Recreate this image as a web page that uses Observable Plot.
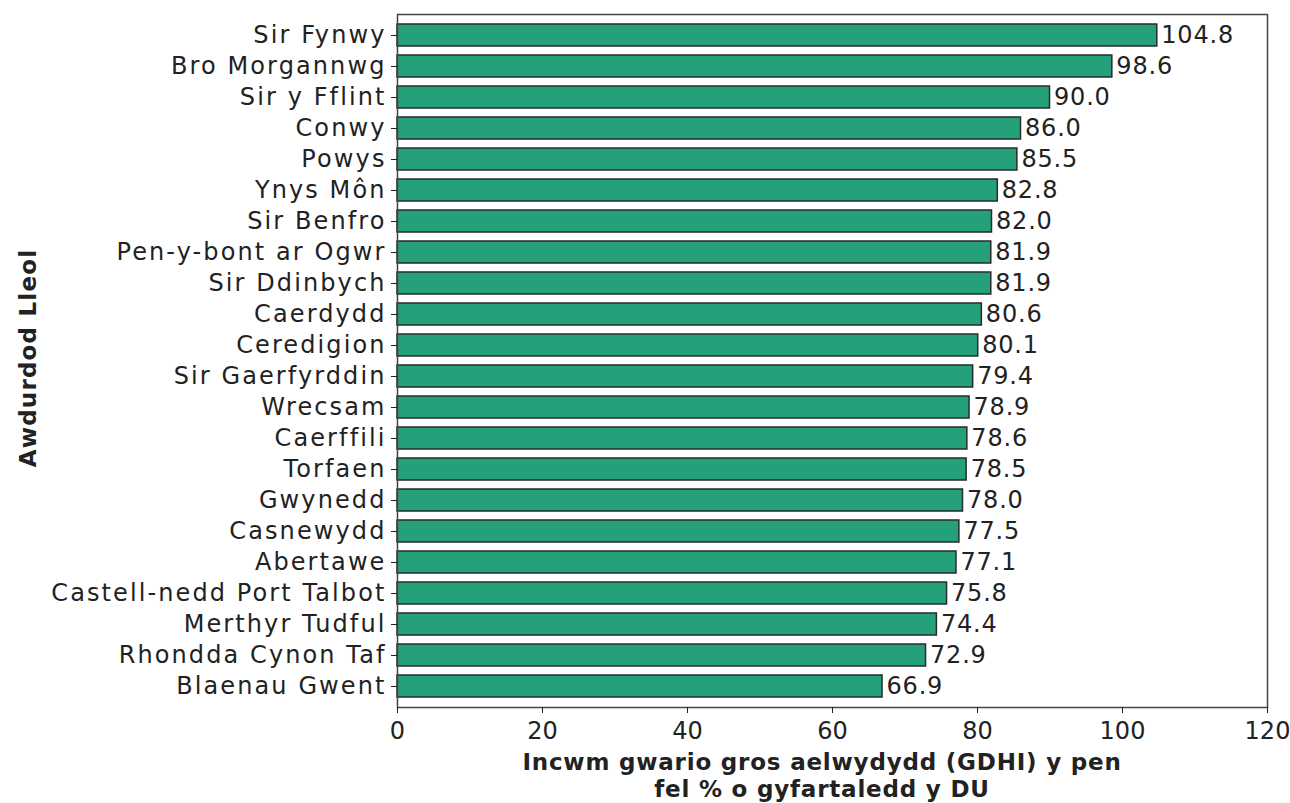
<!DOCTYPE html>
<html><head><meta charset="utf-8">
<script src="https://cdn.jsdelivr.net/npm/d3@7"></script>
<script src="https://cdn.jsdelivr.net/npm/@observablehq/plot@0.6"></script>
<style>body{margin:0;background:#fff}</style>
</head><body><div id="chart"></div>
<script>
const areas = ["Sir Fynwy","Bro Morgannwg","Sir y Fflint","Conwy","Powys","Ynys Môn","Sir Benfro","Pen-y-bont ar Ogwr","Sir Ddinbych","Caerdydd","Ceredigion","Sir Gaerfyrddin","Wrecsam","Caerffili","Torfaen","Gwynedd","Casnewydd","Abertawe","Castell-nedd Port Talbot","Merthyr Tudful","Rhondda Cynon Taf","Blaenau Gwent"];
const values = [104.8,98.6,90.0,86.0,85.5,82.8,82.0,81.9,81.9,80.6,80.1,79.4,78.9,78.6,78.5,78.0,77.5,77.1,75.8,74.4,72.9,66.9];
const xTicks = [0,20,40,60,80,100,120];
const xLabel = ["Incwm gwario gros aelwydydd (GDHI) y pen","fel % o gyfartaledd y DU"];
const yLabel = "Awdurdod Lleol";

const data = areas.map((a,i)=>({area:a, value:values[i]}));
const font = "'DejaVu Sans', sans-serif";
const chart = Plot.plot({
  width:1290, height:803,
  marginLeft:397, marginRight:23, marginTop:14, marginBottom:96,
  style:{fontFamily:font, fontSize:"24px", color:"#222", background:"#fff"},
  x:{domain:[0,120], ticks:xTicks, label:null},
  y:{domain:areas, paddingInner:0.3, paddingOuter:0.21, label:null},
  marks:[
    Plot.barX(data,{y:"area", x:"value", fill:"#24a17b", stroke:"#2a2a2a", strokeWidth:1.5}),
    Plot.text(data,{y:"area", x:"value", text:d=>d.value.toFixed(1), textAnchor:"start", dx:4, fontSize:24, fill:"#222"}),
    Plot.frame({stroke:"#444", strokeWidth:1.5}),
    Plot.axisX({ticks:xTicks, tickSize:6, tickPadding:8, fontSize:24, label:null, tickFormat:d=>String(d)}),
    Plot.axisY({tickSize:6, tickPadding:5, fontSize:24, label:null})
  ]
});
const svg = d3.select(chart);
svg.selectAll('g[aria-label="y-axis tick label"]').attr("letter-spacing","2.1px");
svg.selectAll('g[aria-label="text"]').attr("letter-spacing","0.8px");
const addText = (sel)=>sel.attr("font-family",font).attr("font-weight","bold").attr("font-size",23)
  .attr("fill","#222").attr("letter-spacing","0.8px").attr("text-anchor","middle");
addText(svg.append("text").attr("x",822).attr("y",770)).text(xLabel[0]);
addText(svg.append("text").attr("x",822).attr("y",797)).text(xLabel[1]);
addText(svg.append("text").attr("transform","translate(36,358) rotate(-90)")).attr("letter-spacing","1.2px").text(yLabel);
document.getElementById("chart").appendChild(chart);
</script></body></html>
